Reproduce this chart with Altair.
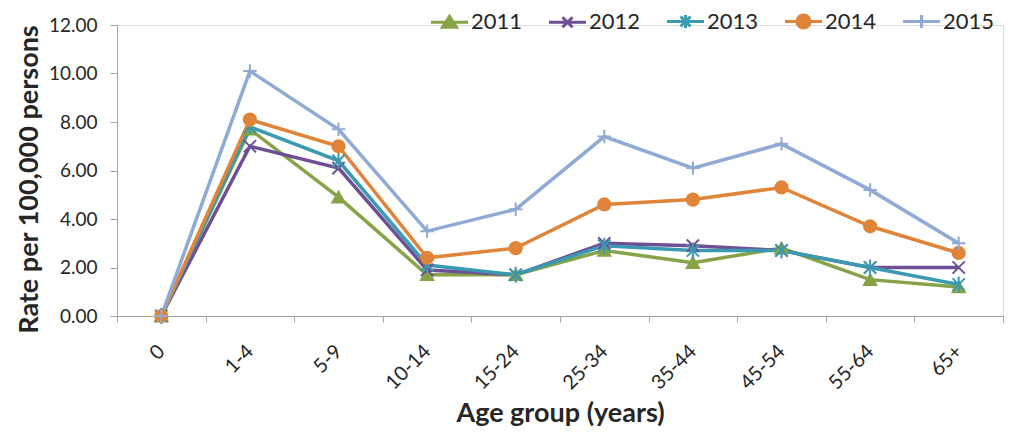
import altair as alt
import pandas as pd

ages = ["0", "1-4", "5-9", "10-14", "15-24", "25-34", "35-44", "45-54", "55-64", "65+"]
years = ["2011", "2012", "2013", "2014", "2015"]
r2011 = [0.0, 7.7, 4.9, 1.7, 1.7, 2.7, 2.2, 2.8, 1.5, 1.2]
r2012 = [0.0, 7.0, 6.1, 1.9, 1.7, 3.0, 2.9, 2.7, 2.0, 2.0]
r2013 = [0.0, 7.8, 6.4, 2.1, 1.7, 2.9, 2.7, 2.7, 2.0, 1.3]
r2014 = [0.0, 8.1, 7.0, 2.4, 2.8, 4.6, 4.8, 5.3, 3.7, 2.6]
r2015 = [0.0, 10.1, 7.7, 3.5, 4.4, 7.4, 6.1, 7.1, 5.2, 3.0]
colors = ["#86a447", "#6e4f94", "#3a9ab1", "#e08439", "#8eaad5"]

series = [r2011, r2012, r2013, r2014, r2015]
rows = []
for yi, (yr, vals) in enumerate(zip(years, series)):
    for ai, (a, v) in enumerate(zip(ages, vals)):
        rows.append({"age": a, "year": yr, "rate": v, "order": yi})
df = pd.DataFrame(rows)

FONT = "Lato"
TXT = "#262626"
AX = "#a6a6a6"

plot_shapes = [
    "triangle-up",
    "M-1,-1L1,1M-1,1L1,-1",
    "M-1,-1L1,1M-1,1L1,-1M0,-1.3L0,1.3",
    "circle",
    "M-1.1,0L1.1,0M0,-1.1L0,1.1",
]
L = "M-1.85,0L1.85,0"
legend_shapes = [
    L + "M0,-0.6L0.7,0.5L-0.7,0.5Z",
    L + "M-0.5,-0.5L0.5,0.5M-0.5,0.5L0.5,-0.5",
    L + "M-0.5,-0.5L0.5,0.5M-0.5,0.5L0.5,-0.5M0,-0.65L0,0.65",
    L + "M0.65,0A0.65,0.65 0 1,1 -0.65,0A0.65,0.65 0 1,1 0.65,0Z",
    L + "M0,-0.65L0,0.65",
]

x_enc = alt.X(
    "age:N",
    bandPosition=0.5,
    sort=ages,
    scale=alt.Scale(type="band", domain=ages, paddingInner=0, paddingOuter=0),
    axis=alt.Axis(
        title="Age group (years)",
        tickBand="extent",
        labelAngle=-45,
        labelAlign="right",
        labelBaseline="middle",
        labelPadding=26,
        labelFontSize=20,
        labelFont=FONT,
        labelColor=TXT,
        titleFont=FONT,
        titleFontSize=27,
        titleFontWeight="bold",
        titleColor=TXT,
        titlePadding=7,
        tickSize=6,
        domainColor=AX,
        tickColor=AX,
        grid=False,
    ),
)
y_enc = alt.Y(
    "rate:Q",
    scale=alt.Scale(domain=[0, 12], nice=False),
    axis=alt.Axis(
        title="Rate per 100,000 persons",
        values=[0, 2, 4, 6, 8, 10, 12],
        format=".2f",
        labelFontSize=19,
        labelFont=FONT,
        labelColor=TXT,
        labelPadding=13,
        titleFont=FONT,
        titleFontSize=27,
        titleFontWeight="bold",
        titleColor=TXT,
        titlePadding=5,
        titleY=154,
        tickSize=7,
        domainColor=AX,
        tickColor=AX,
        grid=False,
    ),
)

cscale = alt.Scale(domain=years, range=colors)

lines = alt.Chart(df).mark_line(strokeWidth=3.5).encode(
    x=x_enc,
    y=y_enc,
    color=alt.Color("year:N", scale=cscale, legend=None),
    order="order:Q",
)

points = alt.Chart(df).mark_point(filled=True, size=150, strokeWidth=2, opacity=1).encode(
    x=x_enc,
    y=y_enc,
    fill=alt.Fill("year:N", scale=cscale, legend=None),
    stroke=alt.Stroke("year:N", scale=cscale, legend=None),
    shape=alt.Shape("year:N", scale=alt.Scale(domain=years, range=plot_shapes), legend=None),
)

leg = alt.Legend(
    title=None,
    orient="none",
    legendX=321,
    legendY=-15,
    direction="horizontal",
    labelFont=FONT,
    labelFontSize=22,
    labelColor=TXT,
    labelOffset=10,
    symbolSize=400,
    symbolStrokeWidth=3,
    columnPadding=20,
)

legend_layer = alt.Chart(df).transform_filter("false").mark_point(
    filled=True, size=400, strokeWidth=3, opacity=1
).encode(
    x=x_enc,
    y=y_enc,
    fill=alt.Fill("year:N", scale=cscale, legend=leg),
    stroke=alt.Stroke("year:N", scale=cscale, legend=leg),
    shape=alt.Shape("year:N", scale=alt.Scale(domain=years, range=legend_shapes), legend=leg),
)

chart = (
    alt.layer(lines, points, legend_layer)
    .resolve_scale(color="independent", fill="independent", stroke="independent", shape="independent")
    .properties(
        width=886,
        height=291,
        autosize=alt.AutoSizeParams(type="none"),
        padding={"left": 109, "top": 17, "right": 3, "bottom": 112},
    )
    .configure_view(stroke=None)
    .configure(background="white")
)

chart.save("out.html", embed_options={"renderer": "svg", "actions": False})
